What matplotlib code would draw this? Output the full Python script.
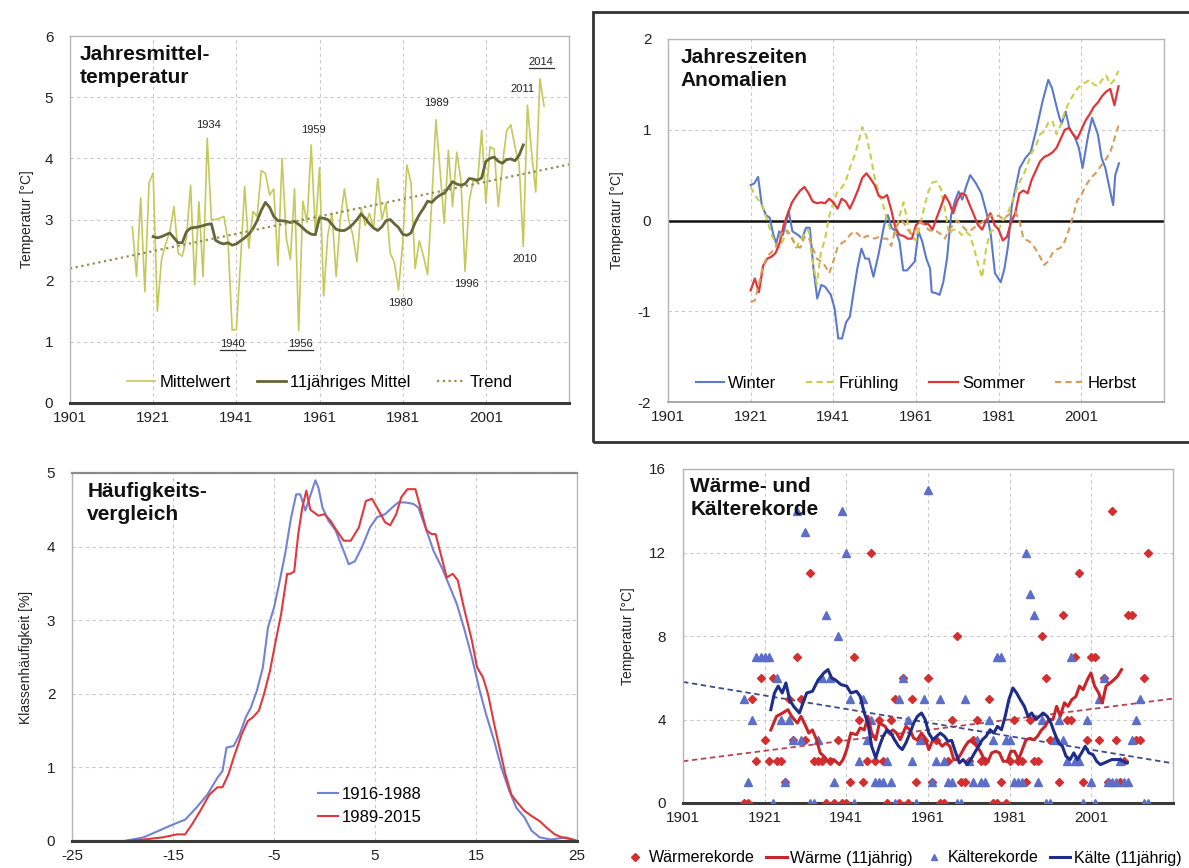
import matplotlib
matplotlib.use('Agg')
import matplotlib.pyplot as plt
import numpy as np
from matplotlib.lines import Line2D
from matplotlib.patches import Rectangle

plt.rcParams['font.family'] = ['Liberation Sans', 'DejaVu Sans']
plt.rcParams['axes.unicode_minus'] = False

# ---------------- Panel 1: Jahresmitteltemperatur ----------------
years_annual = list(range(1916, 2016))
mittelwert = [2.88, 2.07, 3.35, 1.82, 3.60, 3.76, 1.50, 2.34, 2.60, 2.80,
              3.21, 2.45, 2.40, 2.70, 3.56, 1.93, 3.29, 2.07, 4.33, 3.00,
              3.00, 3.02, 3.05, 2.66, 1.19, 1.20, 2.30, 3.54, 2.53, 3.13,
              3.05, 3.80, 3.75, 3.40, 3.50, 2.25, 4.00, 2.70, 2.35, 3.50,
              1.18, 3.30, 2.95, 4.22, 2.80, 3.85, 1.75, 2.75, 3.10, 2.07,
              3.00, 3.50, 3.00, 2.75, 2.31, 3.19, 2.90, 3.10, 2.85, 3.67,
              3.00, 3.27, 2.45, 2.30, 1.85, 2.60, 3.89, 3.60, 2.20, 2.65,
              2.40, 2.10, 3.30, 4.63, 3.80, 2.94, 4.13, 3.21, 4.10, 3.65,
              2.15, 3.30, 3.65, 3.60, 4.46, 3.27, 4.19, 4.15, 3.21, 3.90,
              4.45, 4.55, 4.19, 3.92, 2.56, 4.87, 4.10, 3.45, 5.30, 4.85]
years_11 = list(range(1921, 2011))
mittel_11 = [2.72, 2.70, 2.72, 2.75, 2.78, 2.70, 2.62, 2.62, 2.80, 2.86,
             2.87, 2.88, 2.90, 2.92, 2.93, 2.66, 2.62, 2.60, 2.62, 2.58,
             2.60, 2.65, 2.70, 2.76, 2.85, 2.98, 3.15, 3.28, 3.20, 3.05,
             2.98, 2.98, 2.97, 2.95, 2.97, 2.92, 2.86, 2.80, 2.76, 2.75,
             3.03, 3.02, 3.00, 2.92, 2.84, 2.82, 2.82, 2.86, 2.92, 3.00,
             3.09, 3.02, 2.93, 2.86, 2.82, 2.88, 2.98, 3.00, 2.93, 2.87,
             2.76, 2.74, 2.78, 2.95, 3.08, 3.18, 3.30, 3.28, 3.35, 3.40,
             3.43, 3.52, 3.62, 3.58, 3.56, 3.58, 3.67, 3.66, 3.64, 3.68,
             3.95, 4.00, 4.02, 3.95, 3.92, 3.98, 3.99, 3.96, 4.05, 4.22]
trend_years = [1901, 2021]
trend_vals = [2.2, 3.9]
annot_labels = ['1934', '1940', '1956', '1959', '1980', '1989', '1996', '2010', '2011', '2014']
annot_x = [1934.2, 1940.1, 1956.5, 1959.5, 1980.5, 1989.2, 1996.4, 2010.4, 2009.9, 2014.3]
annot_y = [4.55, 0.96, 0.96, 4.46, 1.64, 4.90, 1.94, 2.35, 5.14, 5.57]
annot_underlined = ['1940', '1956', '2014']

# ---------------- Panel 2: Jahreszeiten Anomalien ----------------
winter_years = [1921.0, 1921.9, 1922.8, 1923.7, 1924.7, 1925.6, 1926.5, 1927.2, 1927.9, 1928.8,
                1930.2, 1931.1, 1932.5, 1933.4, 1934.4, 1935.3, 1936.2, 1937.1, 1938.1, 1939.0,
                1940.4, 1941.3, 1942.2, 1943.1, 1944.1, 1945.0, 1945.9, 1946.8, 1947.8, 1948.7,
                1949.6, 1950.7, 1951.9, 1953.3, 1954.2, 1955.1, 1956.1, 1957.0, 1957.9, 1958.8,
                1959.8, 1960.7, 1961.6, 1962.5, 1963.5, 1964.4, 1964.8, 1965.8, 1966.7, 1967.6,
                1968.5, 1969.5, 1970.4, 1971.3, 1972.2, 1973.1, 1974.1, 1975.5, 1976.8, 1978.2,
                1979.1, 1980.1, 1981.5, 1982.4, 1983.3, 1984.2, 1985.1, 1986.1, 1987.5, 1988.8,
                1990.2, 1991.6, 1993.0, 1993.9, 1995.3, 1996.2, 1997.2, 1998.1, 1999.5, 2000.4,
                2001.3, 2002.7, 2003.6, 2005.0, 2005.9, 2006.8, 2007.8, 2008.7, 2009.2, 2010.1]
winter = [0.39, 0.41, 0.48, 0.17, 0.06, 0.03, -0.16, -0.25, -0.12, -0.16,
          0.10, -0.12, -0.16, -0.20, -0.08, -0.08, -0.53, -0.86, -0.71, -0.73,
          -0.82, -0.97, -1.30, -1.30, -1.12, -1.06, -0.79, -0.53, -0.31, -0.42,
          -0.42, -0.62, -0.38, -0.05, 0.06, -0.08, -0.12, -0.23, -0.55, -0.55,
          -0.50, -0.45, -0.12, -0.23, -0.42, -0.53, -0.79, -0.80, -0.82, -0.68,
          -0.42, 0.06, 0.21, 0.32, 0.23, 0.37, 0.50, 0.41, 0.30, 0.06,
          -0.16, -0.58, -0.68, -0.53, -0.27, 0.17, 0.36, 0.58, 0.69, 0.76,
          1.02, 1.31, 1.55, 1.46, 1.20, 1.06, 1.20, 1.02, 0.91, 0.80,
          0.58, 0.95, 1.13, 0.95, 0.69, 0.58, 0.36, 0.17, 0.50, 0.63]
season_years = list(range(1921, 2011))
fruehling = [0.37, 0.28, 0.22, 0.15, 0.00, -0.15, -0.25, -0.30, -0.20, -0.12,
             -0.18, -0.30, -0.22, -0.15, -0.10, -0.45, -0.70, -0.35, -0.20, 0.05,
             0.20, 0.32, 0.36, 0.43, 0.58, 0.70, 0.85, 1.03, 0.93, 0.72,
             0.47, 0.30, 0.18, 0.00, -0.12, -0.15, 0.05, 0.20, -0.02, -0.18,
             -0.22, -0.05, 0.15, 0.32, 0.42, 0.43, 0.35, 0.12, -0.15, -0.10,
             -0.10, -0.16, -0.12, -0.16, -0.30, -0.48, -0.63, -0.30, -0.12, -0.10,
             -0.10, 0.00, 0.05, 0.18, 0.30, 0.42, 0.50, 0.62, 0.75, 0.82,
             0.95, 0.98, 1.08, 1.10, 0.95, 1.05, 1.20, 1.30, 1.38, 1.45,
             1.50, 1.52, 1.55, 1.50, 1.48, 1.55, 1.60, 1.50, 1.55, 1.65]
sommer = [-0.77, -0.64, -0.79, -0.50, -0.42, -0.40, -0.36, -0.25, -0.05, 0.08,
          0.20, 0.27, 0.33, 0.37, 0.30, 0.21, 0.19, 0.20, 0.19, 0.24,
          0.20, 0.13, 0.24, 0.21, 0.13, 0.23, 0.34, 0.47, 0.52, 0.46,
          0.39, 0.27, 0.25, 0.28, 0.12, -0.08, -0.16, -0.17, -0.20, -0.20,
          -0.05, -0.01, -0.04, -0.04, -0.10, 0.03, 0.15, 0.28, 0.20, 0.08,
          0.22, 0.30, 0.28, 0.17, 0.06, -0.05, -0.10, 0.00, 0.08, -0.05,
          -0.10, -0.22, -0.18, -0.02, 0.08, 0.30, 0.33, 0.30, 0.45, 0.55,
          0.65, 0.70, 0.72, 0.75, 0.80, 0.90, 1.00, 1.02, 0.95, 0.90,
          1.00, 1.10, 1.17, 1.25, 1.30, 1.37, 1.42, 1.45, 1.27, 1.48]
herbst = [-0.90, -0.88, -0.70, -0.50, -0.40, -0.35, -0.30, -0.18, -0.10, -0.12,
          -0.20, -0.28, -0.30, -0.18, -0.18, -0.30, -0.42, -0.45, -0.50, -0.58,
          -0.45, -0.30, -0.25, -0.22, -0.16, -0.12, -0.15, -0.20, -0.17, -0.18,
          -0.20, -0.18, -0.20, -0.20, -0.28, -0.10, 0.00, -0.02, -0.10, -0.16,
          -0.10, -0.02, -0.05, -0.10, -0.12, -0.12, -0.15, -0.20, -0.10, -0.05,
          0.00, -0.05, -0.10, -0.12, -0.08, -0.05, -0.02, 0.02, 0.05, 0.06,
          0.05, 0.02, 0.05, 0.08, 0.10, 0.00, -0.20, -0.22, -0.25, -0.32,
          -0.40, -0.49, -0.45, -0.36, -0.32, -0.30, -0.23, -0.10, 0.05, 0.22,
          0.28, 0.38, 0.45, 0.50, 0.55, 0.62, 0.68, 0.75, 0.90, 1.05]

# ---------------- Panel 3: Häufigkeitsvergleich ----------------
klasse_a = [-25.0, -19.8, -17.9, -16.4, -14.9, -13.8, -12.7, -11.6, -10.6, -10.1,
            -9.7, -9.0, -8.4, -7.8, -7.3, -6.7, -6.1, -5.6, -5.0, -4.5,
            -3.9, -3.3, -2.8, -2.4, -1.9, -0.9, -0.6, -0.2, 0.4, 1.1,
            1.9, 2.4, 3.0, 3.7, 4.5, 5.2, 6.0, 6.7, 7.3, 8.0,
            8.8, 9.3, 10.1, 10.8, 11.6, 12.3, 13.1, 13.8, 14.6, 15.3,
            16.0, 16.8, 17.5, 18.3, 19.0, 19.8, 20.5, 21.3, 22.4, 23.9, 25.0]
haeuf_a = [0.0, 0.0, 0.05, 0.14, 0.23, 0.29, 0.45, 0.63, 0.86, 0.95,
           1.27, 1.29, 1.45, 1.68, 1.81, 2.04, 2.36, 2.90, 3.17, 3.49,
           3.90, 4.40, 4.71, 4.71, 4.49, 4.90, 4.80, 4.53, 4.35, 4.22,
           3.94, 3.76, 3.80, 3.99, 4.26, 4.40, 4.44, 4.53, 4.60, 4.60,
           4.58, 4.53, 4.22, 3.94, 3.72, 3.49, 3.22, 2.90, 2.49, 2.08,
           1.72, 1.36, 1.00, 0.68, 0.45, 0.32, 0.14, 0.05, 0.02, 0.05, 0.0]
klasse_b = [-25.0, -19.8, -17.9, -16.0, -14.6, -13.8, -13.1, -12.3, -11.4, -10.6,
            -10.1, -9.5, -9.0, -8.2, -7.6, -7.1, -6.5, -6.0, -5.4, -4.9,
            -4.3, -3.7, -3.4, -3.0, -2.6, -2.2, -1.8, -1.4, -0.9, -0.6,
            0.0, 0.6, 1.1, 1.9, 2.6, 3.4, 4.1, 4.7, 5.2, 6.0,
            6.5, 7.1, 7.6, 8.2, 9.0, 9.5, 10.1, 10.6, 11.0, 11.6,
            12.1, 12.7, 13.2, 13.8, 14.6, 15.1, 15.7, 16.2, 16.8, 17.4,
            17.9, 18.5, 19.0, 19.8, 20.5, 21.3, 22.0, 22.8, 23.5, 24.6, 25.0]
haeuf_b = [0.0, 0.0, 0.02, 0.05, 0.09, 0.09, 0.23, 0.41, 0.63, 0.73,
           0.73, 0.91, 1.13, 1.45, 1.63, 1.68, 1.77, 1.99, 2.31, 2.67,
           3.08, 3.63, 3.63, 3.66, 4.17, 4.53, 4.76, 4.50, 4.45, 4.42,
           4.44, 4.35, 4.24, 4.08, 4.08, 4.26, 4.62, 4.65, 4.53, 4.33,
           4.29, 4.44, 4.67, 4.78, 4.78, 4.53, 4.22, 4.17, 4.17, 3.85,
           3.58, 3.63, 3.54, 3.17, 2.72, 2.36, 2.22, 1.99, 1.59, 1.22,
           0.91, 0.63, 0.54, 0.41, 0.34, 0.27, 0.18, 0.09, 0.05, 0.02, 0.0]

# ---------------- Panel 4: Wärme- und Kälterekorde ----------------
rekord_years = list(range(1916, 2016))
waerme = [0, 0, 5, 2, 6, 3, 2, 6, 2, 2,
          1, 5, 3, 7, 5, 3, 11, 2, 2, 2,
          0, 2, 0, 3, 0, 0, 1, 7, 4, 1,
          2, 12, 2, 4, 2, 0, 4, 5, 0, 6,
          0, 5, 1, 3, 3, 6, 1, 3, 0, 0,
          2, 4, 8, 1, 1, 2, 3, 4, 2, 2,
          5, 0, 0, 1, 0, 2, 4, 2, 2, 1,
          4, 2, 2, 8, 6, 3, 3, 1, 9, 4,
          4, 7, 11, 1, 3, 7, 7, 3, 6, 1,
          14, 3, 1, 2, 9, 9, 3, 3, 6, 12]
kaelte = [5, 1, 4, 7, 7, 7, 7, 0, 6, 4,
          1, 4, 3, 14, 3, 13, 0, 0, 3, 6,
          9, 6, 1, 8, 14, 12, 5, 0, 2, 5,
          3, 4, 1, 1, 1, 2, 1, 0, 5, 6,
          4, 2, 0, 3, 5, 15, 1, 2, 5, 2,
          1, 1, 0, 0, 5, 2, 1, 3, 1, 1,
          4, 3, 7, 7, 3, 3, 1, 1, 1, 12,
          10, 9, 1, 4, 0, 0, 3, 4, 3, 2,
          7, 2, 2, 0, 4, 1, 0, 5, 6, 1,
          1, 1, 2, 1, 1, 3, 4, 5, 0, 0]
waerme11_years = [1922.5, 1923.9, 1925.3, 1926.7, 1927.6, 1929.0, 1929.9, 1930.9, 1931.8, 1932.7,
                  1933.7, 1934.6, 1935.5, 1936.5, 1937.9, 1939.3, 1940.2, 1941.1, 1942.1, 1943.5,
                  1944.4, 1945.4, 1946.3, 1947.2, 1948.2, 1949.1, 1950.5, 1951.4, 1952.4, 1953.3,
                  1954.2, 1955.6, 1956.6, 1957.5, 1958.4, 1959.4, 1960.3, 1961.2, 1962.2, 1963.1,
                  1964.5, 1965.4, 1966.4, 1967.3, 1968.2, 1969.2, 1970.1, 1971.0, 1972.0, 1972.9,
                  1973.8, 1974.8, 1975.7, 1976.6, 1977.6, 1978.5, 1979.4, 1980.4, 1981.3, 1982.2,
                  1983.2, 1984.1, 1985.0, 1986.0, 1986.9, 1987.8, 1988.8, 1989.7, 1990.6, 1991.6,
                  1992.5, 1993.4, 1994.4, 1995.3, 1996.2, 1997.2, 1998.1, 1999.0, 2000.0, 2000.9,
                  2001.8, 2002.8, 2003.7, 2004.6, 2005.6, 2006.5, 2007.4, 2008.4]
waerme11 = [3.50, 4.15, 4.30, 4.47, 4.15, 3.83, 4.15, 3.75, 3.35, 3.50,
            3.03, 2.40, 2.24, 2.00, 2.08, 1.84, 2.08, 2.56, 3.35, 3.27,
            3.60, 3.50, 4.15, 3.35, 3.03, 3.83, 3.67, 3.35, 3.50, 3.35,
            3.03, 3.67, 3.50, 3.10, 3.03, 3.35, 3.10, 2.56, 3.03, 3.03,
            2.72, 2.88, 2.70, 2.08, 2.08, 2.40, 2.72, 2.96, 2.96, 2.72,
            2.48, 2.08, 2.00, 2.40, 2.48, 2.40, 2.00, 2.00, 2.48, 2.48,
            2.08, 2.56, 3.03, 3.10, 3.03, 3.19, 3.50, 3.67, 4.00, 4.00,
            4.63, 4.15, 4.80, 4.63, 4.95, 5.10, 5.60, 5.43, 5.90, 6.23,
            5.60, 5.27, 4.80, 5.60, 5.75, 5.90, 6.07, 6.39]
kaelte11_years = [1922.5, 1923.4, 1924.3, 1925.3, 1926.2, 1927.1, 1928.1, 1929.5, 1930.4, 1931.3,
                  1932.7, 1934.1, 1935.5, 1936.5, 1937.4, 1938.3, 1939.7, 1941.1, 1942.1, 1943.5,
                  1944.4, 1945.4, 1946.3, 1947.2, 1948.2, 1949.1, 1950.0, 1951.0, 1951.9, 1952.8,
                  1953.8, 1954.7, 1955.6, 1956.6, 1957.5, 1958.4, 1959.4, 1960.3, 1961.2, 1962.2,
                  1963.1, 1964.0, 1965.0, 1965.9, 1966.8, 1967.8, 1968.7, 1969.6, 1970.6, 1971.5,
                  1972.4, 1973.4, 1974.3, 1975.2, 1976.2, 1977.1, 1978.0, 1979.0, 1979.9, 1980.8,
                  1981.8, 1982.7, 1983.6, 1984.6, 1985.5, 1986.4, 1987.4, 1988.3, 1989.2, 1990.2,
                  1991.1, 1992.0, 1993.0, 1993.9, 1994.8, 1995.8, 1996.7, 1997.6, 1998.6, 1999.5,
                  2000.4, 2001.4, 2002.3, 2003.2, 2004.2, 2005.1, 2006.0, 2007.0, 2007.9, 2008.8, 2009.8]
kaelte11 = [4.47, 5.27, 5.60, 5.27, 5.75, 4.95, 4.63, 4.31, 4.80, 5.27,
            5.35, 5.90, 6.23, 6.39, 5.99, 5.90, 5.67, 5.60, 5.27, 5.35,
            5.11, 4.31, 3.83, 2.72, 2.16, 2.72, 3.19, 3.51, 3.35, 3.03,
            2.72, 2.56, 2.88, 3.35, 3.83, 4.15, 4.31, 4.00, 3.35, 3.03,
            3.19, 3.35, 3.20, 2.96, 3.00, 2.40, 1.92, 2.08, 1.84, 2.08,
            2.40, 2.72, 3.03, 3.19, 3.51, 3.35, 3.67, 3.51, 4.15, 4.95,
            5.51, 5.27, 4.95, 4.63, 4.15, 4.31, 4.00, 4.15, 4.31, 4.15,
            3.83, 3.35, 2.88, 2.72, 2.24, 2.08, 2.40, 2.08, 2.40, 2.72,
            2.40, 2.32, 2.00, 1.84, 1.92, 2.00, 2.08, 2.08, 2.08, 2.00, 1.92]
waerme_trend_years = [1901, 2021]
waerme_trend = [2.0, 5.0]
kaelte_trend_years = [1901, 2021]
kaelte_trend = [5.8, 1.9]

year_ticks = [1901, 1921, 1941, 1961, 1981, 2001]

# ---------------- Figure ----------------
W, H = 1189, 868
fig = plt.figure(figsize=(W / 100, H / 100), dpi=100)
fig.patch.set_facecolor('white')


def ax_px(left, right, top, bottom):
    return fig.add_axes([left / W, 1 - bottom / H, (right - left) / W, (bottom - top) / H])


GRID = dict(color='#c9c9c9', lw=0.8, ls=(0, (3, 3)))
TICKC = '#222222'


def style(ax, thick_bottom=True):
    ax.grid(True, **GRID)
    ax.set_axisbelow(True)
    for s in ['top', 'right', 'left']:
        ax.spines[s].set_color('#b5b5b5')
        ax.spines[s].set_linewidth(1.0)
    if thick_bottom:
        ax.spines['bottom'].set_color('#3a3a3a')
        ax.spines['bottom'].set_linewidth(2.2)
    else:
        ax.spines['bottom'].set_color('#9a9a9a')
        ax.spines['bottom'].set_linewidth(1.2)
    ax.tick_params(axis='both', labelsize=11, colors=TICKC, length=0)
    ax.tick_params(axis='y', pad=12)
    ax.tick_params(axis='x', pad=6)


def title(ax, txt, x=0.03, y=0.975):
    ax.text(x, y, txt, transform=ax.transAxes, ha='left', va='top', fontsize=15,
            fontweight='bold', color='#111111', linespacing=1.25)


# Panel 1
ax1 = ax_px(70, 569, 36, 403)
style(ax1)
ax1.plot(years_annual, mittelwert, color='#c4c95a', lw=1.2, label='Mittelwert')
ax1.plot(years_11, mittel_11, color='#66663a', lw=2.0, label='11jähriges Mittel')
ax1.plot(trend_years, trend_vals, color='#8e9152', lw=1.6, ls=(0, (1, 1.6)), label='Trend')
ax1.set_xlim(1901, 2021)
ax1.set_ylim(0, 6)
ax1.set_xticks(year_ticks)
ax1.set_yticks(range(0, 7))
ax1.set_ylabel('Temperatur [°C]', fontsize=10, color=TICKC, labelpad=8)
title(ax1, 'Jahresmittel-\ntemperatur', 0.02)
ax1.legend(ncol=3, loc='center', bbox_to_anchor=(0.5, 0.055), frameon=False, fontsize=12,
           handlelength=1.7, columnspacing=1.6, handletextpad=0.25)
annot_texts = []
for lab, xx, yy in zip(annot_labels, annot_x, annot_y):
    t = ax1.text(xx, yy, lab, ha='center', va='center', fontsize=8, color='#222222')
    annot_texts.append((lab, t))

# Panel 2
ax2 = ax_px(668, 1164, 39, 402)
style(ax2, thick_bottom=False)
ax2.axhline(0, color='#111111', lw=1.8, zorder=1.5)
ax2.plot(winter_years, winter, color='#5b79cc', lw=1.5, label='Winter')
ax2.plot(season_years, fruehling, color='#c5cf4a', lw=1.5, ls=(0, (3, 2)), label='Frühling')
ax2.plot(season_years, sommer, color='#e0363a', lw=1.6, label='Sommer')
ax2.plot(season_years, herbst, color='#d79b5c', lw=1.5, ls=(0, (3, 2)), label='Herbst')
ax2.set_xlim(1901, 2021)
ax2.set_ylim(-2, 2)
ax2.set_xticks(year_ticks)
ax2.set_yticks([-2, -1, 0, 1, 2])
ax2.set_ylabel('Temperatur [°C]', fontsize=10, color=TICKC, labelpad=10)
title(ax2, 'Jahreszeiten\nAnomalien', 0.025)
ax2.legend(ncol=4, loc='center', bbox_to_anchor=(0.5, 0.052), frameon=False, fontsize=12,
           handlelength=1.7, columnspacing=1.8, handletextpad=0.25)

# Outer box around panel 2
fig.add_artist(Rectangle((593 / W, 1 - 442 / H), (W - 593 + 20) / W, (442 - 12) / H,
                         transform=fig.transFigure, fill=False, lw=2.0, ec='#333333'))

# Panel 3
ax3 = ax_px(72, 577, 473, 841)
style(ax3)
ax3.spines['top'].set_color('#8a8a8a')
ax3.spines['top'].set_linewidth(1.6)
ax3.plot(klasse_a, haeuf_a, color='#7482d4', lw=1.5, label='1916-1988')
ax3.plot(klasse_b, haeuf_b, color='#e0383d', lw=1.5, label='1989-2015')
ax3.set_xlim(-25, 25)
ax3.set_ylim(0, 5)
ax3.set_xticks([-25, -15, -5, 5, 15, 25])
ax3.set_yticks(range(0, 6))
ax3.set_ylabel('Klassenhäufigkeit [%]', fontsize=10, color=TICKC, labelpad=10)
title(ax3, 'Häufigkeits-\nvergleich', 0.03)
ax3.legend(loc='center', bbox_to_anchor=(0.59, 0.095), frameon=False, fontsize=12,
           handlelength=1.2, handletextpad=0.25, labelspacing=0.5)

# Panel 4
ax4 = ax_px(683, 1173, 469, 803)
style(ax4)
ax4.plot(waerme_trend_years, waerme_trend, color='#b4454f', lw=1.3, ls=(0, (3, 2)))
ax4.plot(kaelte_trend_years, kaelte_trend, color='#3f4a8c', lw=1.3, ls=(0, (3, 2)))
ax4.plot(rekord_years, waerme, ls='none', marker='D', ms=4.2, color='#d42f30', zorder=3)
ax4.plot(rekord_years, kaelte, ls='none', marker='^', ms=5.5, color='#5b6ec8', zorder=3)
ax4.plot(waerme11_years, waerme11, color='#c9262b', lw=2.2, zorder=4)
ax4.plot(kaelte11_years, kaelte11, color='#1f2d8a', lw=2.2, zorder=4)
ax4.set_xlim(1901, 2021)
ax4.set_ylim(0, 16)
ax4.set_xticks(year_ticks)
ax4.set_yticks([0, 4, 8, 12, 16])
ax4.set_ylabel('Temperatur [°C]', fontsize=10, color=TICKC, labelpad=10)
title(ax4, 'Wärme- und\nKälterekorde', 0.015)

handles = [Line2D([], [], ls='none', marker='D', ms=4, color='#d42f30'),
           Line2D([], [], color='#c9262b', lw=2.2),
           Line2D([], [], ls='none', marker='^', ms=5, color='#5b6ec8'),
           Line2D([], [], color='#1f2d8a', lw=2.2)]
labels = ['Wärmerekorde', 'Wärme (11jährig)', 'Kälterekorde', 'Kälte (11jährig)']
fig.legend(handles, labels, ncol=4, loc='center', bbox_to_anchor=(903 / W, 1 - 858 / H),
           frameon=False, fontsize=11.5, handlelength=1.3, columnspacing=0.7,
           handletextpad=0.2, borderaxespad=0)

# underline selected year labels
fig.canvas.draw()
renderer = fig.canvas.get_renderer()
inv = fig.transFigure.inverted()
for lab, t in annot_texts:
    if lab in annot_underlined:
        bb = t.get_window_extent(renderer)
        (x0, y0) = inv.transform((bb.x0, bb.y0 - 1))
        (x1, _) = inv.transform((bb.x1, bb.y0 - 1))
        fig.add_artist(Line2D([x0, x1], [y0, y0], transform=fig.transFigure,
                              color='#333333', lw=0.9))

fig.savefig('out.png', dpi=100)
